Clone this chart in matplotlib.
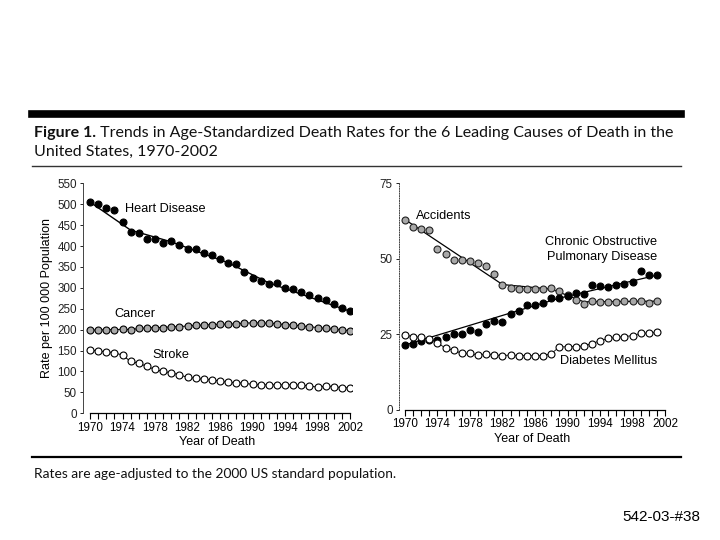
import matplotlib
matplotlib.use("Agg")
import matplotlib.pyplot as plt
from matplotlib.lines import Line2D

# ---------------- data ----------------
years_left = list(range(1970, 2003))
heart = [505, 500, 490, 485, 458, 434, 431, 418, 416, 408, 413, 402, 393, 393, 383, 378,
         368, 360, 356, 338, 324, 317, 309, 312, 300, 298, 290, 283, 275, 272, 261, 252, 245]
cancer = [199, 199, 200, 200, 201, 200, 203, 204, 205, 205, 207, 207, 209, 210, 211, 212,
          213, 213, 214, 216, 216, 216, 215, 214, 212, 211, 209, 207, 205, 203, 201, 199, 198]
stroke = [151, 149, 147, 145, 139, 124, 120, 112, 105, 100, 97, 92, 86, 84, 81, 80,
          77, 74, 73, 72, 69, 68, 68, 68, 68, 68, 67, 66, 62, 65, 64, 61, 61]
heart_trend_years = [1970, 1975, 1980, 1987, 1992, 2002]
heart_trend = [505, 438, 410, 360, 312, 244]

years_right = list(range(1970, 2002))
accidents = [62.8, 60.5, 60.0, 59.5, 53.3, 51.6, 49.7, 49.5, 49.3, 48.5, 47.7, 45.0, 41.5, 40.5,
             40.0, 40.0, 40.0, 40.0, 40.5, 39.5, 38.0, 36.5, 35.0, 36.0, 35.8, 35.8, 35.8,
             36.0, 36.2, 36.0, 35.3, 36.0]
copd = [21.4, 22.0, 22.7, 23.1, 23.2, 24.0, 25.1, 25.0, 26.5, 25.8, 28.4, 29.4, 29.2, 31.8,
        32.7, 34.8, 34.9, 35.5, 36.9, 37.0, 37.7, 38.6, 38.4, 41.3, 41.0, 40.8, 41.3, 41.7,
        42.4, 46.0, 44.7, 44.5]
diabetes = [24.8, 24.3, 24.0, 23.5, 22.3, 20.4, 19.8, 18.7, 18.7, 18.2, 18.4, 18.2, 18.0, 18.2,
            18.0, 18.0, 17.9, 18.0, 18.6, 20.9, 20.9, 21.0, 21.2, 22.0, 22.9, 23.7, 24.0, 24.3,
            24.6, 25.4, 25.4, 25.7]
acc_trend_years = [1970, 1982, 1988, 1992, 2001]
acc_trend = [63.0, 41.5, 40.0, 35.8, 36.0]
copd_trend_years = [1970, 1989, 2001]
copd_trend = [21.5, 37.0, 44.6]

left_yticks = list(range(0, 551, 50))
right_yticks = [0, 25, 50, 75]
xtick_years = list(range(1970, 2003, 4))

title_bold = "Figure 1."
title_rest = " Trends in Age-Standardized Death Rates for the 6 Leading Causes of Death in the"
title_line2 = "United States, 1970-2002"
footnote = "Rates are age-adjusted to the 2000 US standard population."
slide_id = "542-03-#38"

# ---------------- figure ----------------
W, H = 720, 540
fig = plt.figure(figsize=(7.2, 5.4), dpi=100)
fig.patch.set_facecolor("white")

def fx(x): return x / W
def fy(y): return 1 - y / H

chart_font = "Liberation Sans"
title_font = "Lato"
tsize = 11.5

# rules
fig.add_artist(Line2D([fx(32), fx(681)], [fy(113.5), fy(113.5)], color="black", lw=5.5))
fig.add_artist(Line2D([fx(32), fx(681)], [fy(166), fy(166)], color="#333333", lw=1.0))
fig.add_artist(Line2D([fx(32), fx(681)], [fy(457), fy(457)], color="black", lw=1.6))

# title
t1 = fig.text(fx(34), fy(133), title_bold, fontsize=tsize, fontweight="bold",
              family=title_font, va="center", ha="left", color="#111111")
fig.canvas.draw()
bb = t1.get_window_extent()
fig.text(bb.x1 / W, fy(133), title_rest, fontsize=tsize, family=title_font,
         va="center", ha="left", color="#111111")
fig.text(fx(34), fy(152), title_line2, fontsize=tsize, family=title_font,
         va="center", ha="left", color="#111111")
fig.text(fx(34), fy(474), footnote, fontsize=9.9, family=title_font,
         va="center", ha="left", color="#111111")
fig.text(fx(700), fy(517), slide_id, fontsize=11, family=chart_font,
         va="center", ha="right", color="black")

ms = 5.0
mew = 0.8
gray = "#a8a8a8"

def style_axes(ax, yticks, dotted_y):
    for s in ["top", "right"]:
        ax.spines[s].set_visible(False)
    ax.spines["left"].set_linewidth(0.7)
    ax.spines["left"].set_color("#444444")
    if dotted_y:
        ax.spines["left"].set_linestyle((0, (1, 1.5)))
    ax.spines["bottom"].set_linewidth(0.9)
    ax.spines["bottom"].set_bounds(1970, 2002)
    ax.set_yticks(yticks)
    ax.set_xticks(xtick_years)
    ax.set_xticks(list(range(1970, 2003)), minor=True)
    ax.tick_params(axis="x", which="both", direction="out", length=4, width=0.8,
                   labelsize=8.4, pad=2)
    ax.tick_params(axis="y", direction="out", length=2.5, width=0.7, labelsize=8.4,
                   pad=2, colors="#222222")
    for lab in ax.get_xticklabels() + ax.get_yticklabels():
        lab.set_family(chart_font)
    ax.set_xlabel("Year of Death", family=chart_font, fontsize=9, labelpad=2)
    ax.set_facecolor("none")

# left panel
x0 = 83; x1 = 352; ytop = 183.3; ybot = 413.3
axL = fig.add_axes([fx(x0), fy(ybot), (x1 - x0) / W, (ybot - ytop) / H])
axL.set_xlim(1970 - 7 / 8.125, 2002 + 2 / 8.125)
axL.set_ylim(0, 550)
axL.plot(heart_trend_years, heart_trend, color="black", lw=1.0, zorder=2)
axL.plot(years_left, heart, "o", color="black", ms=ms, mec="black", mew=mew, zorder=3)
axL.plot(years_left, cancer, "-o", color="black", lw=0.7, ms=ms, mfc=gray, mec="black",
         mew=mew, zorder=3)
axL.plot(years_left, stroke, "-o", color="black", lw=0.7, ms=ms, mfc="white", mec="black",
         mew=mew, zorder=3)
style_axes(axL, left_yticks, False)
axL.set_ylabel("Rate per 100 000 Population", family=chart_font, fontsize=9, labelpad=3)
axL.text(1974.3, 488, "Heart Disease", family=chart_font, fontsize=9.2, va="center")
axL.text(1973.0, 237, "Cancer", family=chart_font, fontsize=9.2, va="center")
axL.text(1977.7, 140, "Stroke", family=chart_font, fontsize=9.2, va="center")

# right panel
rx0 = 399; rx1 = 665; rtop = 183.3; rbot = 410
axR = fig.add_axes([fx(rx0), fy(rbot), (rx1 - rx0) / W, (rbot - rtop) / H])
axR.set_xlim(1970 - 6 / 8.125, 2002)
axR.set_ylim(0, 75)
axR.plot(acc_trend_years, acc_trend, color="black", lw=0.9, zorder=2)
axR.plot(copd_trend_years, copd_trend, color="black", lw=0.9, zorder=2)
axR.plot(years_right, accidents, "o", ms=ms, mfc=gray, mec="#222222", mew=mew, zorder=3)
axR.plot(years_right, copd, "o", ms=ms, mfc="black", mec="black", mew=mew, zorder=3)
axR.plot(years_right, diabetes, "-o", color="black", lw=0.6, ms=ms, mfc="white",
         mec="black", mew=mew, zorder=3)
style_axes(axR, right_yticks, True)
axR.text(1971.4, 64.3, "Accidents", family=chart_font, fontsize=9.2, va="center")
axR.text(2001.0, 55.5, "Chronic Obstructive", family=chart_font, fontsize=9.2,
         va="center", ha="right")
axR.text(2001.0, 50.6, "Pulmonary Disease", family=chart_font, fontsize=9.2,
         va="center", ha="right")
axR.text(2001.0, 16.3, "Diabetes Mellitus", family=chart_font, fontsize=9.2,
         va="center", ha="right")

fig.savefig("out.png", dpi=100, facecolor="white")
